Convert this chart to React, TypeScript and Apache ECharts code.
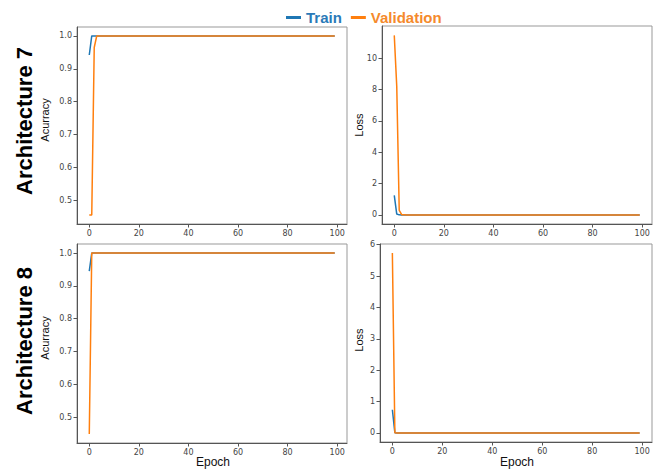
import React, { useEffect, useRef } from "react";
import * as echarts from "echarts";

const epochTicks = [0, 20, 40, 60, 80, 100];
const accTicks = [0.5, 0.6, 0.7, 0.8, 0.9, 1.0];
const loss7Ticks = [0, 2, 4, 6, 8, 10];
const loss8Ticks = [0, 1, 2, 3, 4, 5, 6];

const trainAcc7 = [
  0.942, 1.0, 1.0, 1.0, 1.0, 1.0, 1.0, 1.0, 1.0, 1.0,
  1.0, 1.0, 1.0, 1.0, 1.0, 1.0, 1.0, 1.0, 1.0, 1.0,
  1.0, 1.0, 1.0, 1.0, 1.0, 1.0, 1.0, 1.0, 1.0, 1.0,
  1.0, 1.0, 1.0, 1.0, 1.0, 1.0, 1.0, 1.0, 1.0, 1.0,
  1.0, 1.0, 1.0, 1.0, 1.0, 1.0, 1.0, 1.0, 1.0, 1.0,
  1.0, 1.0, 1.0, 1.0, 1.0, 1.0, 1.0, 1.0, 1.0, 1.0,
  1.0, 1.0, 1.0, 1.0, 1.0, 1.0, 1.0, 1.0, 1.0, 1.0,
  1.0, 1.0, 1.0, 1.0, 1.0, 1.0, 1.0, 1.0, 1.0, 1.0,
  1.0, 1.0, 1.0, 1.0, 1.0, 1.0, 1.0, 1.0, 1.0, 1.0,
  1.0, 1.0, 1.0, 1.0, 1.0, 1.0, 1.0, 1.0, 1.0, 1.0,
];
const valAcc7 = [
  0.455, 0.455, 0.965, 1.0, 1.0, 1.0, 1.0, 1.0, 1.0, 1.0,
  1.0, 1.0, 1.0, 1.0, 1.0, 1.0, 1.0, 1.0, 1.0, 1.0,
  1.0, 1.0, 1.0, 1.0, 1.0, 1.0, 1.0, 1.0, 1.0, 1.0,
  1.0, 1.0, 1.0, 1.0, 1.0, 1.0, 1.0, 1.0, 1.0, 1.0,
  1.0, 1.0, 1.0, 1.0, 1.0, 1.0, 1.0, 1.0, 1.0, 1.0,
  1.0, 1.0, 1.0, 1.0, 1.0, 1.0, 1.0, 1.0, 1.0, 1.0,
  1.0, 1.0, 1.0, 1.0, 1.0, 1.0, 1.0, 1.0, 1.0, 1.0,
  1.0, 1.0, 1.0, 1.0, 1.0, 1.0, 1.0, 1.0, 1.0, 1.0,
  1.0, 1.0, 1.0, 1.0, 1.0, 1.0, 1.0, 1.0, 1.0, 1.0,
  1.0, 1.0, 1.0, 1.0, 1.0, 1.0, 1.0, 1.0, 1.0, 1.0,
];
const trainLoss7 = [
  1.25, 0.06, 0.01, 0.0, 0.0, 0.0, 0.0, 0.0, 0.0, 0.0,
  0.0, 0.0, 0.0, 0.0, 0.0, 0.0, 0.0, 0.0, 0.0, 0.0,
  0.0, 0.0, 0.0, 0.0, 0.0, 0.0, 0.0, 0.0, 0.0, 0.0,
  0.0, 0.0, 0.0, 0.0, 0.0, 0.0, 0.0, 0.0, 0.0, 0.0,
  0.0, 0.0, 0.0, 0.0, 0.0, 0.0, 0.0, 0.0, 0.0, 0.0,
  0.0, 0.0, 0.0, 0.0, 0.0, 0.0, 0.0, 0.0, 0.0, 0.0,
  0.0, 0.0, 0.0, 0.0, 0.0, 0.0, 0.0, 0.0, 0.0, 0.0,
  0.0, 0.0, 0.0, 0.0, 0.0, 0.0, 0.0, 0.0, 0.0, 0.0,
  0.0, 0.0, 0.0, 0.0, 0.0, 0.0, 0.0, 0.0, 0.0, 0.0,
  0.0, 0.0, 0.0, 0.0, 0.0, 0.0, 0.0, 0.0, 0.0, 0.0,
];
const valLoss7 = [
  11.45, 8.2, 0.3, 0.02, 0.01, 0.0, 0.0, 0.0, 0.0, 0.0,
  0.0, 0.0, 0.0, 0.0, 0.0, 0.0, 0.0, 0.0, 0.0, 0.0,
  0.0, 0.0, 0.0, 0.0, 0.0, 0.0, 0.0, 0.0, 0.0, 0.0,
  0.0, 0.0, 0.0, 0.0, 0.0, 0.0, 0.0, 0.0, 0.0, 0.0,
  0.0, 0.0, 0.0, 0.0, 0.0, 0.0, 0.0, 0.0, 0.0, 0.0,
  0.0, 0.0, 0.0, 0.0, 0.0, 0.0, 0.0, 0.0, 0.0, 0.0,
  0.0, 0.0, 0.0, 0.0, 0.0, 0.0, 0.0, 0.0, 0.0, 0.0,
  0.0, 0.0, 0.0, 0.0, 0.0, 0.0, 0.0, 0.0, 0.0, 0.0,
  0.0, 0.0, 0.0, 0.0, 0.0, 0.0, 0.0, 0.0, 0.0, 0.0,
  0.0, 0.0, 0.0, 0.0, 0.0, 0.0, 0.0, 0.0, 0.0, 0.0,
];
const trainAcc8 = [
  0.945, 1.0, 1.0, 1.0, 1.0, 1.0, 1.0, 1.0, 1.0, 1.0,
  1.0, 1.0, 1.0, 1.0, 1.0, 1.0, 1.0, 1.0, 1.0, 1.0,
  1.0, 1.0, 1.0, 1.0, 1.0, 1.0, 1.0, 1.0, 1.0, 1.0,
  1.0, 1.0, 1.0, 1.0, 1.0, 1.0, 1.0, 1.0, 1.0, 1.0,
  1.0, 1.0, 1.0, 1.0, 1.0, 1.0, 1.0, 1.0, 1.0, 1.0,
  1.0, 1.0, 1.0, 1.0, 1.0, 1.0, 1.0, 1.0, 1.0, 1.0,
  1.0, 1.0, 1.0, 1.0, 1.0, 1.0, 1.0, 1.0, 1.0, 1.0,
  1.0, 1.0, 1.0, 1.0, 1.0, 1.0, 1.0, 1.0, 1.0, 1.0,
  1.0, 1.0, 1.0, 1.0, 1.0, 1.0, 1.0, 1.0, 1.0, 1.0,
  1.0, 1.0, 1.0, 1.0, 1.0, 1.0, 1.0, 1.0, 1.0, 1.0,
];
const valAcc8 = [
  0.449, 1.0, 1.0, 1.0, 1.0, 1.0, 1.0, 1.0, 1.0, 1.0,
  1.0, 1.0, 1.0, 1.0, 1.0, 1.0, 1.0, 1.0, 1.0, 1.0,
  1.0, 1.0, 1.0, 1.0, 1.0, 1.0, 1.0, 1.0, 1.0, 1.0,
  1.0, 1.0, 1.0, 1.0, 1.0, 1.0, 1.0, 1.0, 1.0, 1.0,
  1.0, 1.0, 1.0, 1.0, 1.0, 1.0, 1.0, 1.0, 1.0, 1.0,
  1.0, 1.0, 1.0, 1.0, 1.0, 1.0, 1.0, 1.0, 1.0, 1.0,
  1.0, 1.0, 1.0, 1.0, 1.0, 1.0, 1.0, 1.0, 1.0, 1.0,
  1.0, 1.0, 1.0, 1.0, 1.0, 1.0, 1.0, 1.0, 1.0, 1.0,
  1.0, 1.0, 1.0, 1.0, 1.0, 1.0, 1.0, 1.0, 1.0, 1.0,
  1.0, 1.0, 1.0, 1.0, 1.0, 1.0, 1.0, 1.0, 1.0, 1.0,
];
const trainLoss8 = [
  0.74, 0.01, 0.0, 0.0, 0.0, 0.0, 0.0, 0.0, 0.0, 0.0,
  0.0, 0.0, 0.0, 0.0, 0.0, 0.0, 0.0, 0.0, 0.0, 0.0,
  0.0, 0.0, 0.0, 0.0, 0.0, 0.0, 0.0, 0.0, 0.0, 0.0,
  0.0, 0.0, 0.0, 0.0, 0.0, 0.0, 0.0, 0.0, 0.0, 0.0,
  0.0, 0.0, 0.0, 0.0, 0.0, 0.0, 0.0, 0.0, 0.0, 0.0,
  0.0, 0.0, 0.0, 0.0, 0.0, 0.0, 0.0, 0.0, 0.0, 0.0,
  0.0, 0.0, 0.0, 0.0, 0.0, 0.0, 0.0, 0.0, 0.0, 0.0,
  0.0, 0.0, 0.0, 0.0, 0.0, 0.0, 0.0, 0.0, 0.0, 0.0,
  0.0, 0.0, 0.0, 0.0, 0.0, 0.0, 0.0, 0.0, 0.0, 0.0,
  0.0, 0.0, 0.0, 0.0, 0.0, 0.0, 0.0, 0.0, 0.0, 0.0,
];
const valLoss8 = [
  5.73, 0.01, 0.0, 0.0, 0.0, 0.0, 0.0, 0.0, 0.0, 0.0,
  0.0, 0.0, 0.0, 0.0, 0.0, 0.0, 0.0, 0.0, 0.0, 0.0,
  0.0, 0.0, 0.0, 0.0, 0.0, 0.0, 0.0, 0.0, 0.0, 0.0,
  0.0, 0.0, 0.0, 0.0, 0.0, 0.0, 0.0, 0.0, 0.0, 0.0,
  0.0, 0.0, 0.0, 0.0, 0.0, 0.0, 0.0, 0.0, 0.0, 0.0,
  0.0, 0.0, 0.0, 0.0, 0.0, 0.0, 0.0, 0.0, 0.0, 0.0,
  0.0, 0.0, 0.0, 0.0, 0.0, 0.0, 0.0, 0.0, 0.0, 0.0,
  0.0, 0.0, 0.0, 0.0, 0.0, 0.0, 0.0, 0.0, 0.0, 0.0,
  0.0, 0.0, 0.0, 0.0, 0.0, 0.0, 0.0, 0.0, 0.0, 0.0,
  0.0, 0.0, 0.0, 0.0, 0.0, 0.0, 0.0, 0.0, 0.0, 0.0,
];

const BLUE = "#1f77b4";
const ORANGE = "#ff7f0e";
const TICK_FONT = "DejaVu Sans";
const LABEL_FONT = "Liberation Sans";

const pairs = (vals: number[]) => vals.map((v, i) => [i, v]);

export default function App() {
  const ref = useRef<HTMLDivElement>(null);

  useEffect(() => {
    if (!ref.current) return;
    const chart = echarts.init(ref.current, undefined, { renderer: "svg" });

    const grids = [
      { left: 77, top: 27, width: 270, height: 197 },
      { left: 382, top: 26, width: 270, height: 198 },
      { left: 77, top: 244, width: 270, height: 199 },
      { left: 380, top: 244, width: 272, height: 198 },
    ];

    const xAxisFor = (gi: number) => ({
      type: "value",
      gridIndex: gi,
      min: -4.95,
      max: 103.95,
      splitLine: { show: false },
      axisLine: { show: true, onZero: false, lineStyle: { color: "#555", width: 1 } },
      axisTick: {
        show: true,
        length: 3.5,
        lineStyle: { color: "#555" },
        customValues: epochTicks,
      },
      axisLabel: {
        fontSize: 8,
        color: "#444",
        fontFamily: TICK_FONT,
        margin: 5,
        customValues: epochTicks,
      },
    });

    const yAxisFor = (gi: number, min: number, max: number, ticks: number[], decimals: number) => ({
      type: "value",
      gridIndex: gi,
      min,
      max,
      splitLine: { show: false },
      axisLine: { show: true, onZero: false, lineStyle: { color: "#555", width: 1 } },
      axisTick: {
        show: true,
        length: 3.5,
        lineStyle: { color: "#555" },
        customValues: ticks,
      },
      axisLabel: {
        fontSize: 8,
        color: "#444",
        fontFamily: TICK_FONT,
        margin: 5,
        customValues: ticks,
        formatter: (v: number) => v.toFixed(decimals),
      },
    });

    const line = (name: string, color: string, idx: number, vals: number[]) => ({
      type: "line",
      name,
      xAxisIndex: idx,
      yAxisIndex: idx,
      data: pairs(vals),
      showSymbol: false,
      symbol: "none",
      lineStyle: { color, width: 1.5 },
      itemStyle: { color },
      z: name === "Train" ? 2 : 3,
    });

    const textEl = (text: string, x: number, y: number, size: number, bold: boolean, rotate: boolean, color = "#111") => ({
      type: "text",
      x,
      y,
      rotation: rotate ? Math.PI / 2 : 0,
      style: {
        text,
        fill: color,
        fontSize: size,
        fontWeight: bold ? "bold" : "normal",
        fontFamily: LABEL_FONT,
        align: "center",
        verticalAlign: "middle",
      },
    });

    chart.setOption({
      animation: false,
      backgroundColor: "#fff",
      grid: grids.map((g) => ({
        ...g,
        show: true,
        borderColor: "#999",
        borderWidth: 1,
        backgroundColor: "transparent",
      })),
      legend: {
        top: 5,
        left: 281,
        icon: "rect",
        itemWidth: 15,
        itemHeight: 3,
        itemGap: 9,
        selectedMode: false,
        textStyle: { fontSize: 15, fontWeight: "bold", fontFamily: LABEL_FONT },
        data: [
          { name: "Train", textStyle: { color: "#2a7ab8" } },
          { name: "Validation", textStyle: { color: "#f58a2c" } },
        ],
      },
      xAxis: [xAxisFor(0), xAxisFor(1), xAxisFor(2), xAxisFor(3)],
      yAxis: [
        yAxisFor(0, 0.4277, 1.0273, accTicks, 1),
        yAxisFor(1, -0.574, 12.05, loss7Ticks, 0),
        yAxisFor(2, 0.4215, 1.0276, accTicks, 1),
        yAxisFor(3, -0.287, 6.02, loss8Ticks, 0),
      ],
      series: [
        line("Train", BLUE, 0, trainAcc7),
        line("Validation", ORANGE, 0, valAcc7),
        line("Train", BLUE, 1, trainLoss7),
        line("Validation", ORANGE, 1, valLoss7),
        line("Train", BLUE, 2, trainAcc8),
        line("Validation", ORANGE, 2, valAcc8),
        line("Train", BLUE, 3, trainLoss8),
        line("Validation", ORANGE, 3, valLoss8),
      ],
      graphic: [
        textEl("Architecture 7", 24, 121, 22, true, true, "#000"),
        textEl("Architecture 8", 24, 341, 22, true, true, "#000"),
        textEl("Acurracy", 45, 120, 11, false, true),
        textEl("Acurracy", 45, 338, 11, false, true),
        textEl("Loss", 359, 125, 11, false, true),
        textEl("Loss", 359, 340, 11, false, true),
        textEl("Epoch", 213, 462, 12, false, false),
        textEl("Epoch", 517, 462, 12, false, false),
      ],
    });

    return () => chart.dispose();
  }, []);

  return (
    <div
      ref={ref}
      style={{ position: "fixed", left: 0, top: 0, width: 665, height: 470, background: "#fff" }}
    />
  );
}
